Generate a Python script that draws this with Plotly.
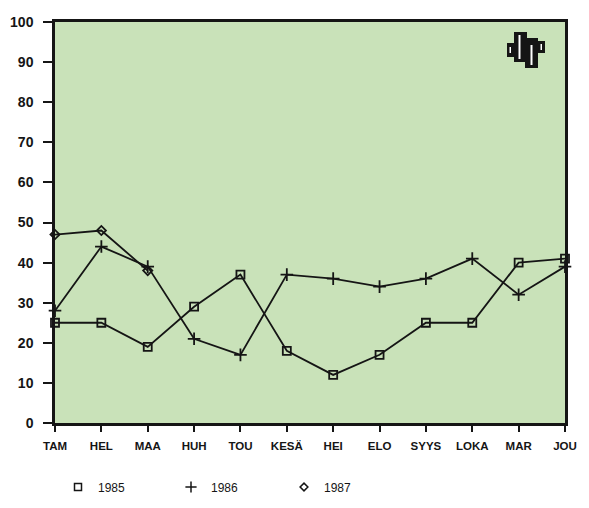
import plotly.graph_objects as go

months = ["TAM", "HEL", "MAA", "HUH", "TOU", "KESÄ", "HEI", "ELO", "SYYS", "LOKA", "MAR", "JOU"]
y1985 = [25, 25, 19, 29, 37, 18, 12, 17, 25, 25, 40, 41]
y1986 = [28, 44, 39, 21, 17, 37, 36, 34, 36, 41, 32, 39]
months1987 = ["TAM", "HEL", "MAA"]
y1987 = [47, 48, 38]
y_ticks = [0, 10, 20, 30, 40, 50, 60, 70, 80, 90, 100]

INK = "#151515"
BG = "#c9e2b9"

W, H = 589, 508
L, R, T, B = 55, 24, 22, 85
PW, PH = W - L - R, H - T - B

def px(x):
    return (x - L) / PW

def py(y):
    return (H - B - y) / PH

fig = go.Figure()

series = [
    ("1985", months, y1985, "square-open", 8),
    ("1986", months, y1986, "cross-thin-open", 9),
    ("1987", months1987, y1987, "diamond-open", 7),
]
for name, xs, ys, sym, size in series:
    fig.add_trace(go.Scatter(
        x=xs, y=ys, mode="lines+markers", name=name, showlegend=False,
        line=dict(color=INK, width=1.8),
        marker=dict(symbol=sym, size=size, color=INK, line=dict(color=INK, width=1.8)),
        cliponaxis=False,
    ))
    fig.add_trace(go.Scatter(
        x=[None], y=[None], mode="markers", name=name, showlegend=True,
        marker=dict(symbol=sym, size=size - 1, color=INK, line=dict(color=INK, width=1.5)),
    ))

# small logo in the top-right corner
logo = [
    (514, 32, 527, 62, INK),
    (525, 38, 538, 68, INK),
    (507, 43, 516, 57, INK),
    (536, 41, 545, 53, INK),
    (518.5, 35, 520.5, 59, "white"),
    (530.5, 45, 532.5, 65, "white"),
    (509.5, 47, 511, 53, "white"),
    (540.5, 44, 542, 50, "white"),
]
for x0, y0, x1, y1, c in logo:
    fig.add_shape(type="rect", xref="paper", yref="paper",
                  x0=px(x0), x1=px(x1), y0=py(y1), y1=py(y0),
                  fillcolor=c, line=dict(width=0), layer="above")

fig.update_layout(
    width=W, height=H,
    margin=dict(l=L, r=R, t=T, b=B, autoexpand=False),
    paper_bgcolor="white",
    plot_bgcolor=BG,
    font=dict(family="Liberation Sans, Arial, sans-serif", color=INK, size=12),
    legend=dict(
        orientation="h", x=px(58), xanchor="left", y=py(487), yanchor="middle",
        entrywidth=68, entrywidthmode="pixels",
        font=dict(size=12, color=INK), bgcolor="rgba(0,0,0,0)",
    ),
    xaxis=dict(
        type="category", categoryorder="array", categoryarray=months,
        range=[0, 11], showgrid=False, zeroline=False, automargin=False,
        showline=True, linecolor=INK, linewidth=2.5, mirror=True,
        ticks="outside", ticklen=6, tickwidth=2, tickcolor=INK,
        ticklabelstandoff=4,
        tickfont=dict(size=11.5, weight="bold", color=INK),
    ),
    yaxis=dict(
        range=[0, 100], tickvals=y_ticks, showgrid=False, zeroline=False, automargin=False,
        showline=True, linecolor=INK, linewidth=2.5, mirror=True,
        ticks="outside", ticklen=9, tickwidth=2, tickcolor=INK,
        ticklabelstandoff=7,
        tickfont=dict(size=14, weight="bold", color=INK),
    ),
)

fig.write_html("out.html", config={"displayModeBar": False},
               post_script="document.body.style.margin='0';document.body.style.padding='0';")
